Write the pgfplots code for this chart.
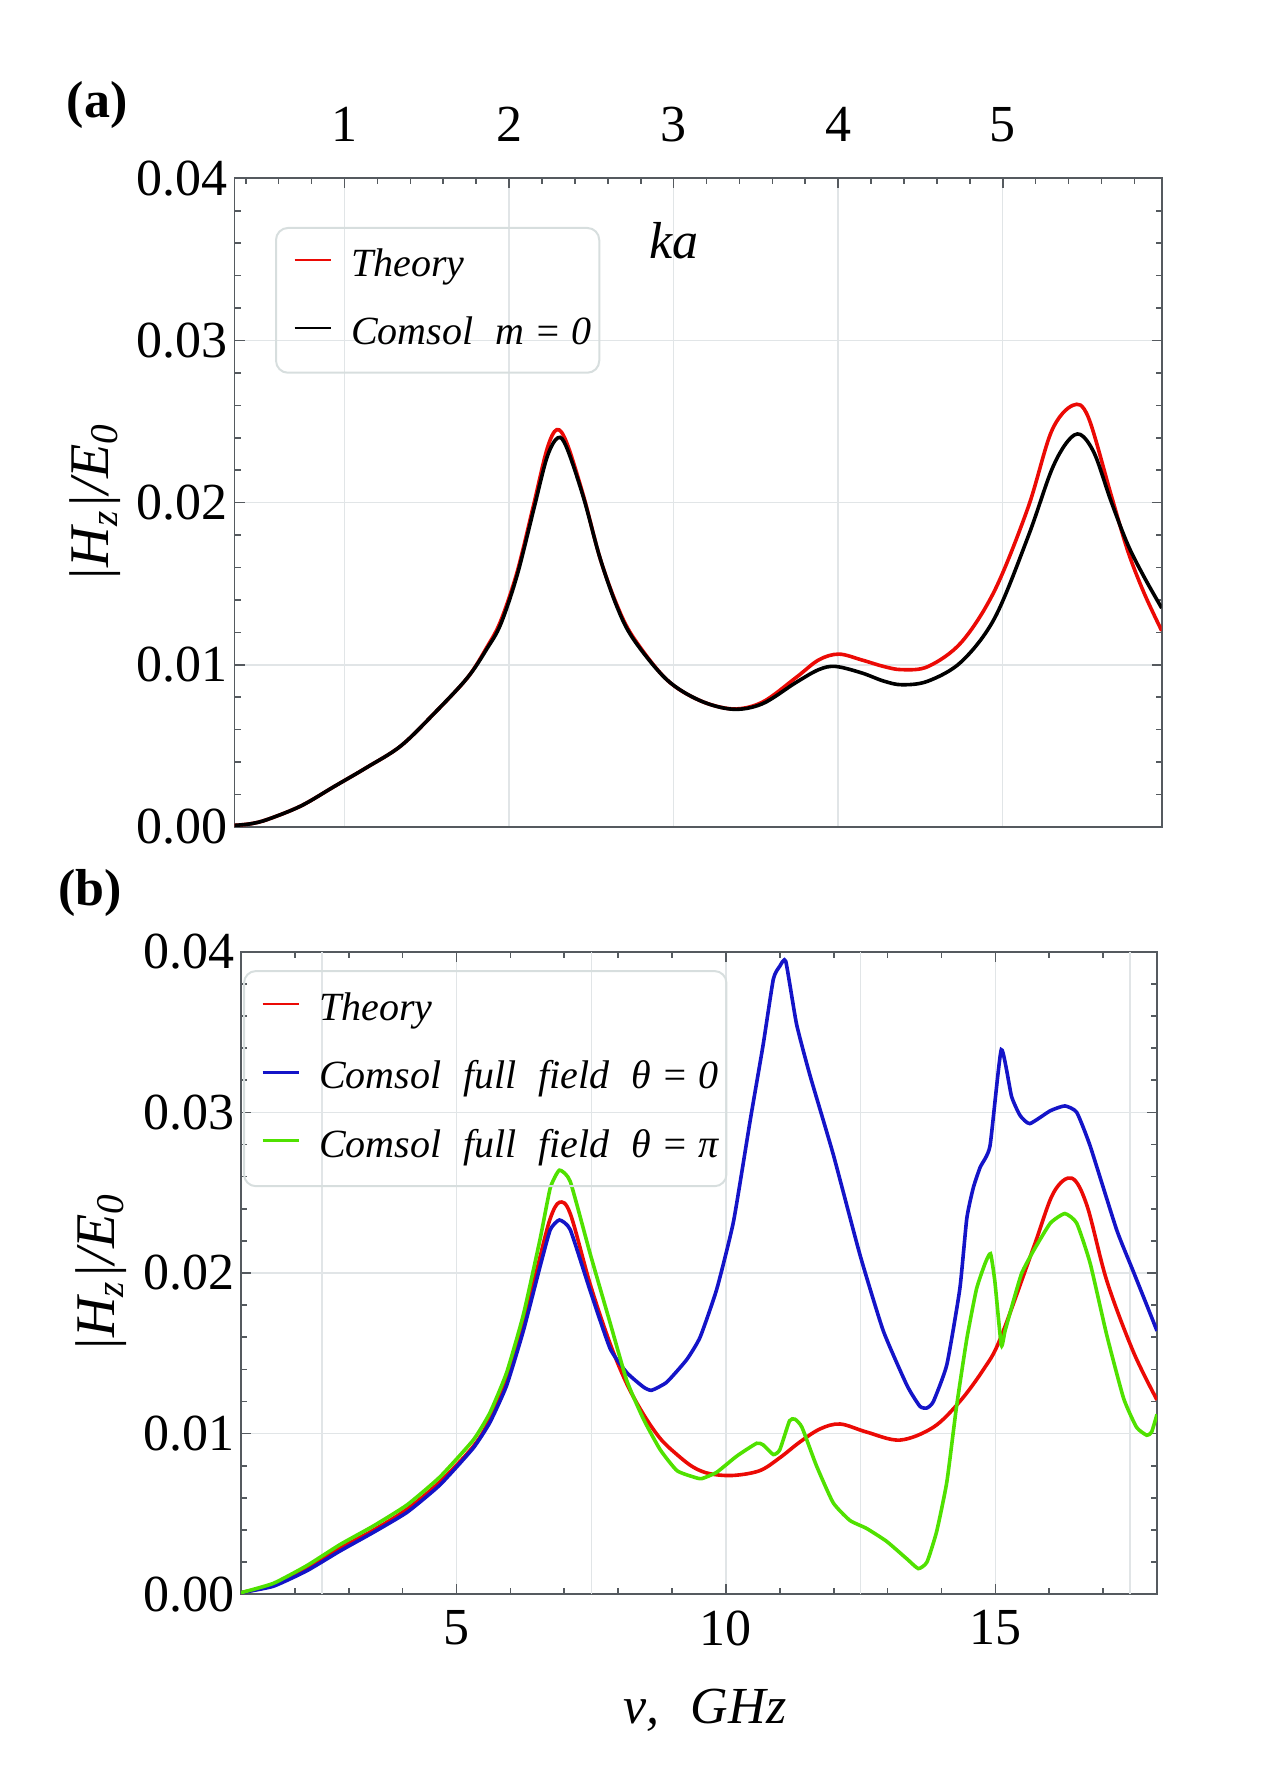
\documentclass[border=0pt]{standalone}
\usepackage{fontspec}
\setmainfont{Liberation Serif}
\usepackage{pgfplots}
\pgfplotsset{compat=1.18}

\definecolor{cred}{RGB}{235,10,5}
\definecolor{cblue}{RGB}{20,20,200}
\definecolor{cgreen}{RGB}{80,225,0}
\definecolor{framec}{RGB}{85,90,95}
\definecolor{gridc}{RGB}{225,229,231}
\definecolor{legc}{RGB}{215,222,222}

\pgfplotsset{
  myaxis/.style={
    scale only axis,
    xmin=1, xmax=18, ymin=0, ymax=0.04,
    axis line style={framec, line width=0.4pt},
    every tick/.style={framec, line width=0.4pt},
    major tick length=2.5pt, minor tick length=1.5pt,
    tick align=inside,
    ytick={0,0.01,0.02,0.03,0.04},
    minor y tick num=4,
    scaled y ticks=false,
    /pgf/number format/assume math mode=true,
    yticklabel style={/pgf/number format/.cd, fixed, fixed zerofill, precision=2, assume math mode=true, /tikz/.cd, xshift=1.9pt},
    tick label style={font=\fontsize{13}{13}\selectfont},
    grid=major,
    major grid style={gridc, line width=0.35pt},
    legend cell align=left,
    legend style={draw=legc, fill=none, line width=0.5pt, rounded corners=3pt,
      font=\fontsize{10}{12}\selectfont\itshape,
      inner xsep=2pt,
      nodes={inner sep=0pt, text height=7.5pt, text depth=2.5pt},
      /tikz/every odd column/.append style={column sep=4.7pt}},
    legend image code/.code={\path (0pt,1.6pt); \draw[#1, line width=0.65pt] (2.2pt,1.6pt) -- (11.3pt,1.6pt);},
    ylabel={\fontsize{14}{14}\selectfont\itshape |H\textsubscript{z}|/E\textsubscript{0}},
  }
}

\begin{document}
\begin{tikzpicture}
\useasboundingbox (0,0) rectangle (315.75pt,446.5pt);

% ---------------- panel (a) ----------------
\begin{axis}[myaxis,
  at={(58.625pt,239.75pt)}, anchor=south west,
  width=231.8pt, height=162.175pt,
  xtick={3.017,6.034,9.051,12.068,15.085},
  xticklabels={1,2,3,4,5},
  minor xtick={1.207,1.810,2.414,3.620,4.224,4.827,5.431,6.637,7.241,7.844,8.448,9.654,10.258,10.861,11.465,12.671,13.275,13.878,14.482,15.688,16.292,16.895,17.499},
  xtick pos=upper, xticklabel pos=upper,
  xticklabel style={yshift=5.6pt},
  legend style={at={(0.0437,0.925)}, anchor=north west, inner ysep=4.6pt, row sep=7pt},
  ylabel style={at={(axis description cs:-0.1504,0.5)}, anchor=center},
]
\addplot[cred, line width=0.9pt, smooth, tension=0.55] coordinates {
(1.0,0.0001) (1.3,0.0002) (1.61,0.00047) (2.22,0.0013) (2.83,0.0025) (3.44,0.0037)
(4.05,0.0050) (4.66,0.0070) (5.27,0.0092) (5.63,0.0111) (5.88,0.0127) (6.18,0.0157)
(6.48,0.0198) (6.73,0.0233) (6.91,0.0245) (7.09,0.0237) (7.40,0.0204) (7.70,0.0166)
(8.01,0.0137) (8.31,0.0117) (8.92,0.0091) (9.53,0.0078) (10.14,0.00728) (10.68,0.0077)
(11.29,0.0092) (11.71,0.0103) (12.08,0.01066) (12.50,0.0103) (12.90,0.0099) (13.24,0.0097)
(13.72,0.0099) (14.33,0.0114) (14.94,0.0146) (15.55,0.0197) (15.98,0.0244) (16.37,0.0260)
(16.65,0.0253) (17.07,0.0205) (17.38,0.0170) (17.68,0.0144) (18.0,0.0121)
};
\addlegendentry{Theory}
\addplot[black, line width=0.9pt, smooth, tension=0.55] coordinates {
(1.0,0.0001) (1.3,0.0002) (1.61,0.00047) (2.22,0.0013) (2.83,0.0025) (3.44,0.0037)
(4.05,0.0050) (4.66,0.0070) (5.27,0.0092) (5.63,0.0110) (5.88,0.0125) (6.18,0.0155)
(6.48,0.0195) (6.73,0.0228) (6.93,0.0240) (7.09,0.0234) (7.40,0.0203) (7.70,0.0166)
(8.01,0.0136) (8.31,0.0116) (8.92,0.0091) (9.53,0.0078) (10.14,0.00726) (10.68,0.0076)
(11.29,0.0089) (11.71,0.0097) (12.02,0.0099) (12.50,0.0095) (12.90,0.0090) (13.24,0.00877)
(13.72,0.0090) (14.33,0.0102) (14.94,0.0129) (15.55,0.0179) (15.98,0.0220) (16.28,0.0238)
(16.51,0.0242) (16.77,0.0230) (17.07,0.0201) (17.38,0.0174) (17.68,0.0154) (18.0,0.0135)
};
\addlegendentry{Comsol\hspace{0.55em}m = 0}
\node[font=\fontsize{13}{13}\selectfont\itshape] at (rel axis cs:0.474,0.903) {ka};
\end{axis}

% ---------------- panel (b) ----------------
\begin{axis}[myaxis,
  at={(60.25pt,47.925pt)}, anchor=south west,
  width=229pt, height=160.65pt,
  xtick={5,10,15},
  minor xtick={2,3,4,6,7,8,9,11,12,13,14,16,17},
  extra x ticks={2.5,7.5,12.5,17.5},
  extra x tick labels={},
  extra x tick style={major tick length=0pt, grid=major},
  xticklabel style={yshift=-0.5pt},
  legend style={at={(0.0022,0.9715)}, anchor=north west, inner ysep=4.8pt, row sep=7.1pt},
  ylabel style={at={(axis description cs:-0.1528,0.5)}, anchor=center},
  xlabel={\fontsize{13}{13}\selectfont\itshape ν,\hspace{0.6em}GHz},
  xlabel style={at={(axis description cs:0.5066,-0.180)}, anchor=center},
]
\addplot[cred, line width=0.9pt, smooth, tension=0.55] coordinates {
(1.0,0.0001) (1.60,0.0006) (2.22,0.0016) (2.84,0.00287) (3.46,0.0040) (4.08,0.0053)
(4.69,0.0070) (5.31,0.0092) (5.62,0.0109) (5.93,0.0133) (6.24,0.0168) (6.55,0.0210)
(6.74,0.0234) (6.91,0.0244) (7.11,0.0237) (7.48,0.0193) (7.85,0.0156) (8.16,0.0131)
(8.47,0.0112) (8.78,0.0097) (9.09,0.0087) (9.40,0.0079) (9.71,0.0075) (10.14,0.0074)
(10.63,0.0077) (11.0,0.0085) (11.38,0.0095) (11.75,0.0103) (12.12,0.0106) (12.61,0.0101)
(13.23,0.0096) (13.85,0.0104) (14.34,0.0120) (14.78,0.0140) (15.09,0.0159) (15.71,0.0216)
(16.08,0.0250) (16.42,0.0259) (16.70,0.0242) (17.07,0.0195) (17.56,0.0151) (18.0,0.0121)
};
\addlegendentry{Theory}
\addplot[cblue, line width=0.9pt, smooth, tension=0.3] coordinates {
(1.0,0.0001) (1.60,0.0005) (2.22,0.00146) (2.84,0.0027) (3.46,0.00386) (4.08,0.0051)
(4.69,0.0068) (5.31,0.0091) (5.62,0.0107) (5.93,0.0130) (6.24,0.0164) (6.55,0.0204)
(6.74,0.0227) (6.91,0.0233) (7.11,0.0227) (7.48,0.0189) (7.85,0.0153) (8.16,0.0138)
(8.47,0.0129) (8.62,0.0127) (8.90,0.0132) (9.27,0.0146) (9.52,0.0160) (9.83,0.0190) (10.14,0.0232)
(10.45,0.0295) (10.69,0.0342) (10.88,0.0383) (11.0,0.0391) (11.11,0.0394) (11.31,0.0355)
(11.56,0.0323) (11.99,0.0274) (12.49,0.0211) (12.92,0.0164) (13.36,0.0130) (13.60,0.0117)
(13.73,0.0116) (13.85,0.0120) (14.10,0.0143) (14.34,0.0190) (14.47,0.0234) (14.59,0.0253)
(14.72,0.0266) (14.90,0.0279) (15.11,0.0339) (15.30,0.0310) (15.46,0.0298) (15.64,0.0293)
(16.02,0.0301) (16.29,0.0304) (16.51,0.0300) (16.76,0.0279) (17.25,0.0227) (17.56,0.0201)
(17.81,0.0180) (18.0,0.0164)
};
\addlegendentry{Comsol\hspace{0.55em}full\hspace{0.55em}field\hspace{0.55em}θ = 0}
\addplot[cgreen, line width=0.9pt, smooth, tension=0.3] coordinates {
(1.0,0.0001) (1.60,0.00068) (2.22,0.00178) (2.84,0.0031) (3.46,0.00426) (4.08,0.00556)
(4.69,0.0073) (5.31,0.0096) (5.62,0.0113) (5.93,0.0138) (6.24,0.0174) (6.55,0.0221)
(6.74,0.0253) (6.91,0.0264) (7.11,0.0257) (7.48,0.0212) (7.85,0.0169) (8.16,0.0133)
(8.47,0.0109) (8.78,0.0090) (9.09,0.0077) (9.40,0.0073) (9.55,0.0072) (9.83,0.0076)
(10.2,0.0086) (10.57,0.0094) (10.69,0.0093) (10.88,0.0087) (11.0,0.0090) (11.18,0.0108)
(11.28,0.0109) (11.41,0.0104) (11.68,0.0080) (11.99,0.0057) (12.30,0.0046) (12.61,0.0041)
(12.98,0.0033) (13.36,0.0022) (13.57,0.0016) (13.73,0.0020) (13.91,0.0039) (14.10,0.0070)
(14.28,0.0117) (14.47,0.0159) (14.65,0.0190) (14.81,0.0206) (14.91,0.0212) (14.99,0.0195)
(15.11,0.0155) (15.18,0.0164) (15.33,0.0182) (15.49,0.0200) (15.71,0.0214) (16.02,0.0231)
(16.29,0.0237) (16.51,0.0231) (16.76,0.0206) (17.07,0.0161) (17.38,0.0122) (17.62,0.0104)
(17.81,0.0099) (17.90,0.0101) (18.0,0.0112)
};
\addlegendentry{Comsol\hspace{0.55em}full\hspace{0.55em}field\hspace{0.55em}θ = π}
\end{axis}

\node[font=\fontsize{13}{13}\selectfont\bfseries] at (24.25pt,420.25pt) {(a)};
\node[font=\fontsize{13}{13}\selectfont\bfseries] at (22.5pt,223.25pt) {(b)};
\end{tikzpicture}
\end{document}
